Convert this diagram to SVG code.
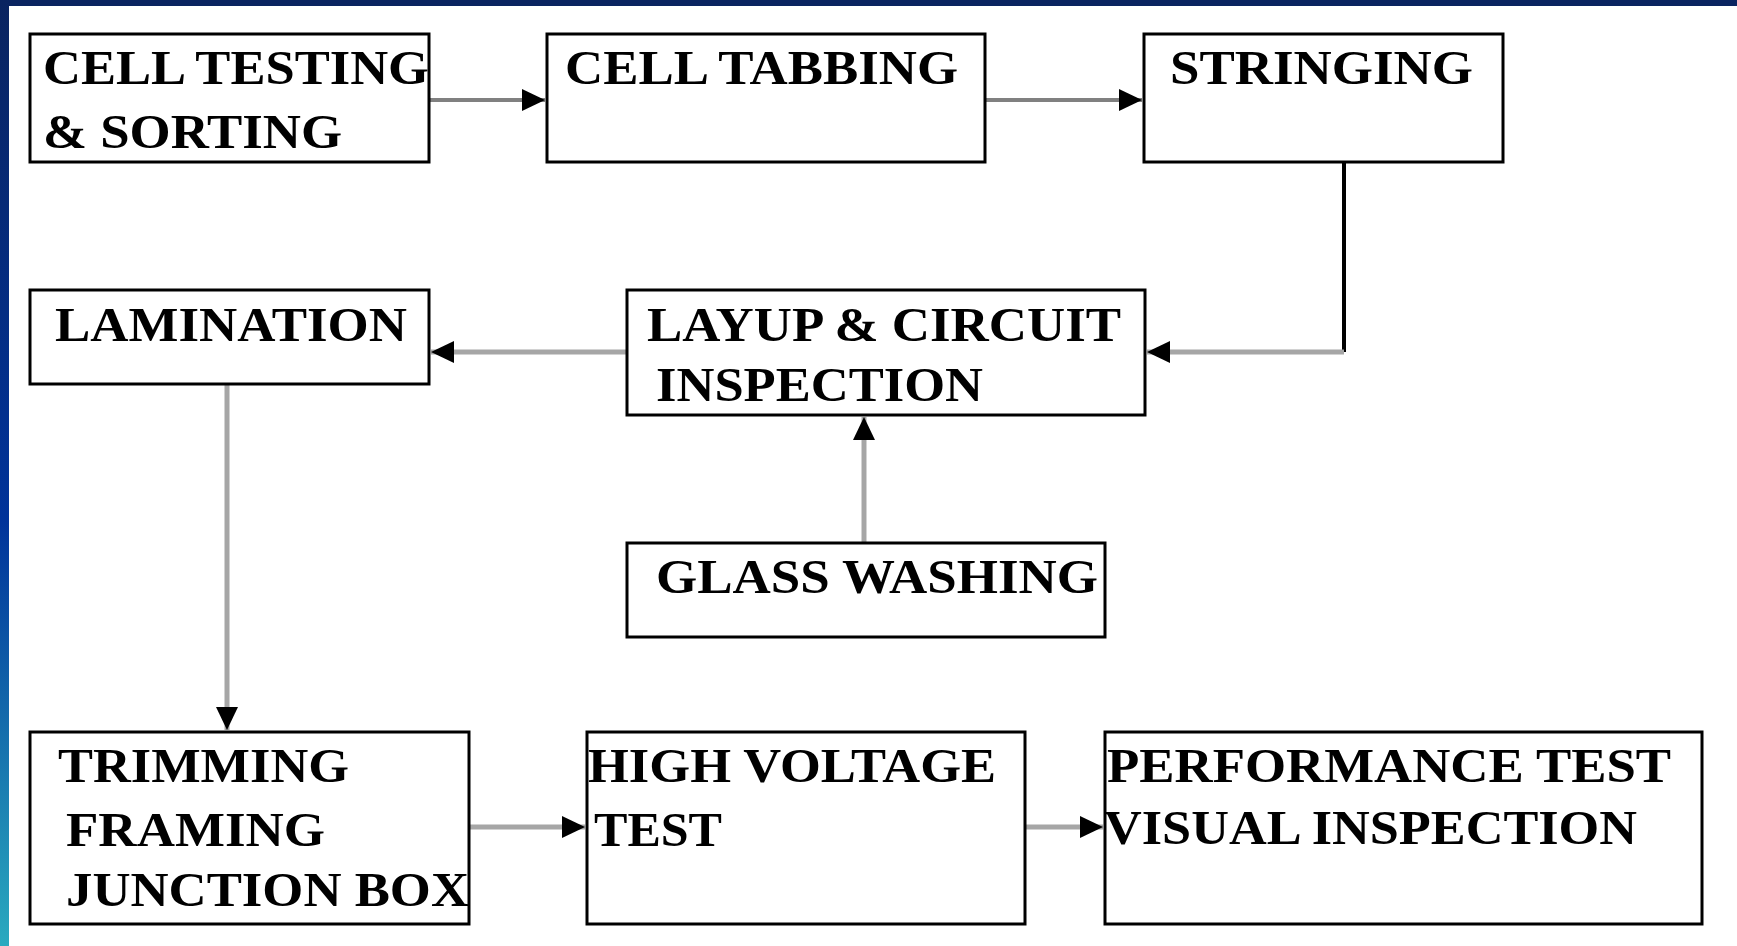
<svg xmlns="http://www.w3.org/2000/svg" width="1737" height="946" viewBox="0 0 1737 946">
<defs>
<linearGradient id="side" x1="0" y1="0" x2="0" y2="1">
<stop offset="0" stop-color="#0a2460"/>
<stop offset="0.55" stop-color="#00339a"/>
<stop offset="1" stop-color="#2aaabf"/>
</linearGradient>
<marker id="ah" markerUnits="userSpaceOnUse" markerWidth="26" markerHeight="24" refX="23" refY="11" orient="auto">
<polygon points="0,0 23,11 0,22" fill="#000"/>
</marker>
</defs>
<style>
.box{fill:#fff;stroke:#000;stroke-width:3}
.t{font-family:"Liberation Serif","Times New Roman",serif;font-weight:bold;font-size:48px;fill:#000}
.c{fill:none;stroke:#a6a6a6;stroke-width:5}
.cd{fill:none;stroke:#808080;stroke-width:4}
.ck{fill:none;stroke:#000;stroke-width:4}
</style>
<rect x="0" y="0" width="1737" height="946" fill="#fff"/>
<rect x="0" y="0" width="1737" height="6" fill="#0a2460"/>
<rect x="0" y="0" width="9" height="946" fill="url(#side)"/>
<g id="connectors">
<path class="cd" d="M429,100 H545" marker-end="url(#ah)"/>
<path class="cd" d="M985,100 H1142" marker-end="url(#ah)"/>
<path class="ck" d="M1344,162 V352"/>
<path class="c" d="M1344,352 H1147" marker-end="url(#ah)"/>
<path class="c" d="M627,352 H431" marker-end="url(#ah)"/>
<path class="c" d="M864,543 V417" marker-end="url(#ah)"/>
<path class="c" d="M227,384 V730" marker-end="url(#ah)"/>
<path class="c" d="M469,827 H585" marker-end="url(#ah)"/>
<path class="c" d="M1025,827 H1103" marker-end="url(#ah)"/>
</g>
<g id="n1"><rect class="box" x="30" y="34" width="399" height="128"/>
<text class="t" x="43" y="84" textLength="386" lengthAdjust="spacingAndGlyphs">CELL TESTING</text>
<text class="t" x="43" y="148" textLength="299" lengthAdjust="spacingAndGlyphs">&amp; SORTING</text></g>
<g id="n2"><rect class="box" x="547" y="34" width="438" height="128"/>
<text class="t" x="565" y="84" textLength="393" lengthAdjust="spacingAndGlyphs">CELL TABBING</text></g>
<g id="n3"><rect class="box" x="1144" y="34" width="359" height="128"/>
<text class="t" x="1170" y="84" textLength="303" lengthAdjust="spacingAndGlyphs">STRINGING</text></g>
<g id="n4"><rect class="box" x="30" y="290" width="399" height="94"/>
<text class="t" x="55" y="341" textLength="352" lengthAdjust="spacingAndGlyphs">LAMINATION</text></g>
<g id="n5"><rect class="box" x="627" y="290" width="518" height="125"/>
<text class="t" x="647" y="341" textLength="474" lengthAdjust="spacingAndGlyphs">LAYUP &amp; CIRCUIT</text>
<text class="t" x="656" y="401" textLength="327" lengthAdjust="spacingAndGlyphs">INSPECTION</text></g>
<g id="n6"><rect class="box" x="627" y="543" width="478" height="94"/>
<text class="t" x="656" y="593" textLength="442" lengthAdjust="spacingAndGlyphs">GLASS WASHING</text></g>
<g id="n7"><rect class="box" x="30" y="732" width="439" height="192"/>
<text class="t" x="58" y="782" textLength="291" lengthAdjust="spacingAndGlyphs">TRIMMING</text>
<text class="t" x="66" y="846" textLength="259" lengthAdjust="spacingAndGlyphs">FRAMING</text>
<text class="t" x="66" y="906" textLength="403" lengthAdjust="spacingAndGlyphs">JUNCTION BOX</text></g>
<g id="n8"><rect class="box" x="587" y="732" width="438" height="192"/>
<text class="t" x="588" y="782" textLength="408" lengthAdjust="spacingAndGlyphs">HIGH VOLTAGE</text>
<text class="t" x="594" y="846" textLength="128" lengthAdjust="spacingAndGlyphs">TEST</text></g>
<g id="n9"><rect class="box" x="1105" y="732" width="597" height="192"/>
<text class="t" x="1107" y="782" textLength="564" lengthAdjust="spacingAndGlyphs">PERFORMANCE TEST</text>
<text class="t" x="1104" y="844" textLength="533" lengthAdjust="spacingAndGlyphs">VISUAL INSPECTION</text></g>
</svg>
